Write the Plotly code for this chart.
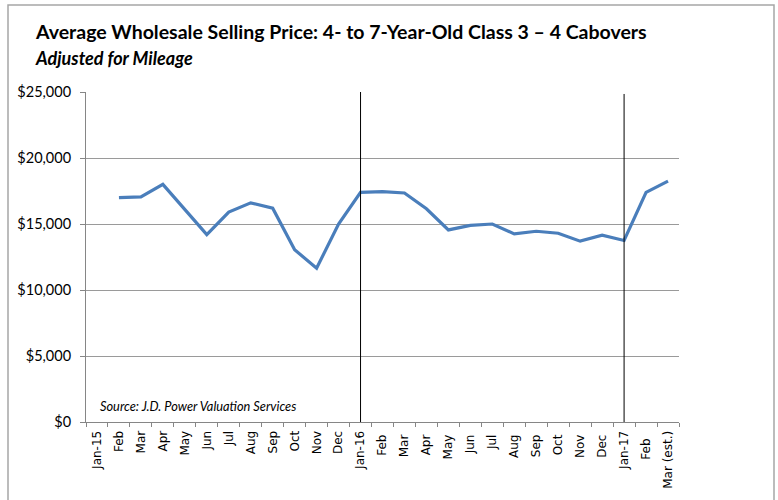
import plotly.graph_objects as go

categories = ["Jan-15", "Feb", "Mar", "Apr", "May", "Jun", "Jul", "Aug", "Sep", "Oct", "Nov", "Dec",
              "Jan-16", "Feb ", "Mar ", "Apr ", "May ", "Jun ", "Jul ", "Aug ", "Sep ", "Oct ", "Nov ", "Dec ",
              "Jan-17", "Feb  ", "Mar (est.)"]
prices = [None, 17000, 17050, 18000, 16100, 14200, 15900, 16600, 16200, 13050, 11650, 15000,
          17400, 17450, 17350, 16150, 14550, 14900, 15000, 14250, 14450, 14300, 13700, 14150,
          13750, 17400, 18250]
y_ticks = [0, 5000, 10000, 15000, 20000, 25000]
y_tick_labels = ["$0", "$5,000", "$10,000", "$15,000", "$20,000", "$25,000"]
marker_categories = ["Jan-16", "Jan-17"]

PW, PH = 593, 330

fig = go.Figure()
fig.add_trace(go.Scatter(x=categories, y=prices, mode="lines",
                         line=dict(color="#4a7ebb", width=3.2), connectgaps=False,
                         hoverinfo="skip", showlegend=False))

for i, c in enumerate(marker_categories):
    fig.add_shape(type="line", xref="x", yref="y", x0=c, x1=c,
                  y0=0, y1=25100 if i == 0 else 24850,
                  line=dict(color="black", width=1))

# outer frame
fig.add_shape(type="rect", xref="paper", yref="paper",
              x0=(8-86)/PW, x1=(774-86)/PW, y0=-0.5, y1=(422-5)/PH,
              line=dict(color="#a6a6a6", width=1.5), layer="below")

fig.add_annotation(text="Average Wholesale Selling Price: 4- to 7-Year-Old Class 3 \u2013 4 Cabovers",
                   xref="paper", yref="paper", x=(33-86)/PW, y=(422-32)/PH,
                   xanchor="left", yanchor="middle", showarrow=False,
                   font=dict(family="Lato", size=19.5, color="black", weight="bold"))
fig.add_annotation(text="<b><i>Adjusted for Mileage</i></b>",
                   xref="paper", yref="paper", x=(33-86)/PW, y=(422-58)/PH,
                   xanchor="left", yanchor="middle", showarrow=False,
                   font=dict(family="Lato", size=18, color="black"))
fig.add_annotation(text="<i>Source: J.D. Power Valuation Services</i>",
                   xref="paper", yref="paper", x=(98-86)/PW, y=(422-406)/PH,
                   xanchor="left", yanchor="middle", showarrow=False,
                   font=dict(family="Lato", size=12.8, color="black"))

fig.update_layout(
    width=778, height=500,
    margin=dict(l=86, r=99, t=92, b=78, autoexpand=False),
    paper_bgcolor="white", plot_bgcolor="white",
    xaxis=dict(type="category", categoryorder="array", categoryarray=categories,
               tickson="boundaries", ticks="outside", ticklen=4, tickcolor="#868686",
               showline=True, linecolor="#868686", linewidth=1, showgrid=False,
               tickangle=-90, tickfont=dict(family="DejaVu Sans", size=12, color="black"),
               ticklabelstandoff=3,
               range=[-0.5, len(categories) - 0.5], fixedrange=True, automargin=False),
    yaxis=dict(range=[0, 25000], tickvals=y_ticks, ticktext=y_tick_labels,
               ticks="outside", ticklen=5, tickcolor="#868686",
               showline=True, linecolor="#868686", linewidth=1,
               showgrid=True, gridcolor="#9a9a9a", gridwidth=1, zeroline=False,
               tickfont=dict(family="Lato", size=14.5, color="black"), fixedrange=True,
               ticklabelstandoff=6, automargin=False),
)

fig.write_html("out.html", config={"displayModeBar": False},
               post_script="document.body.style.margin='0px';document.body.style.overflow='hidden';")
